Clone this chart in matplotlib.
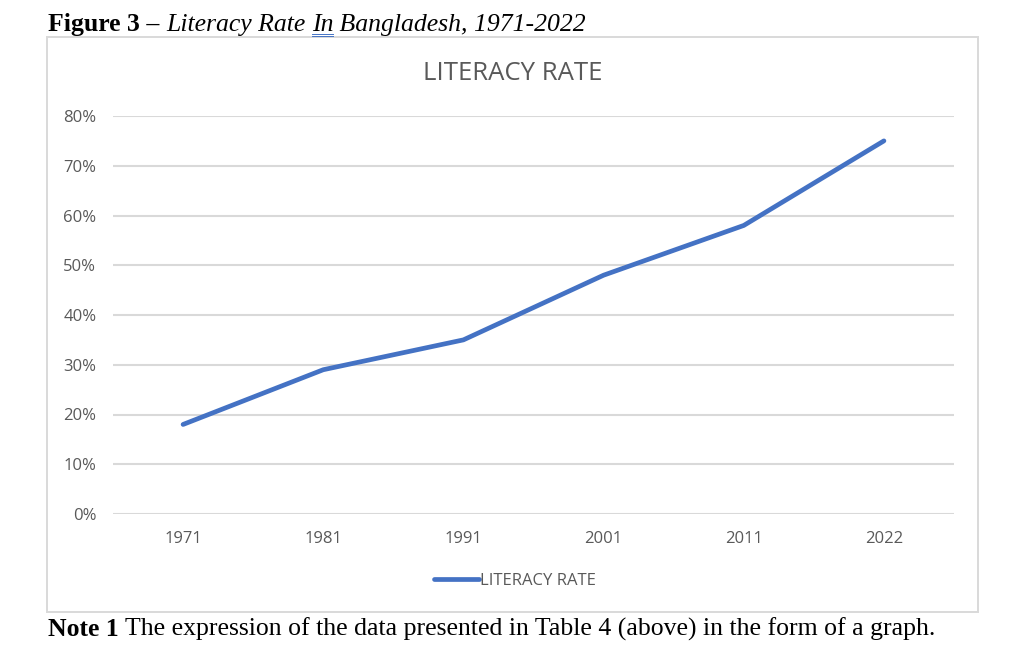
import matplotlib.pyplot as plt
from matplotlib.patches import Rectangle
from matplotlib.lines import Line2D

years = ['1971', '1981', '1991', '2001', '2011', '2022']
literacy = [0.18, 0.29, 0.35, 0.48, 0.58, 0.75]
y_ticks = [0.0, 0.1, 0.2, 0.3, 0.4, 0.5, 0.6, 0.7, 0.8]
y_labels = ['0%', '10%', '20%', '30%', '40%', '50%', '60%', '70%', '80%']

W, H = 1036, 653
GREY = '#595959'
GRID = '#d9d9d9'
BLUE = '#4472C4'

fig = plt.figure(figsize=(W / 100, H / 100), dpi=100)
fig.patch.set_facecolor('white')

def fx(px):
    return px / W

def fy(py):
    return 1 - py / H

# chart frame
fig.patches.append(Rectangle((fx(47), fy(612)), fx(978) - fx(47), fy(37) - fy(612),
                             transform=fig.transFigure, fill=False,
                             edgecolor=GRID, linewidth=1.4))

ax = fig.add_axes([fx(113), fy(514), fx(954) - fx(113), fy(116) - fy(514)])
x = list(range(len(years)))
ax.plot(x, literacy, color=BLUE, linewidth=3.4, solid_capstyle='round',
        solid_joinstyle='round', label='LITERACY RATE', zorder=3)
ax.set_xlim(-0.5, len(years) - 0.5)
ax.set_ylim(0, 0.8)
ax.set_yticks(y_ticks)
ax.set_yticklabels(y_labels)
ax.set_xticks(x)
ax.set_xticklabels(years)
ax.grid(axis='y', color=GRID, linewidth=1.5)
ax.set_axisbelow(True)
for s in ax.spines.values():
    s.set_visible(False)
ax.tick_params(length=0, colors=GREY, labelsize=12)
ax.tick_params(axis='y', pad=12)
ax.tick_params(axis='x', pad=12.5)
for lab in ax.get_xticklabels() + ax.get_yticklabels():
    lab.set_fontfamily('Open Sans')

fig.text(fx(513), fy(73), 'LITERACY RATE', ha='center', va='center',
         fontsize=18.5, color=GREY, family='Open Sans')

# legend
leg = fig.legend(handles=[Line2D([0], [0], color=BLUE, linewidth=3.4, solid_capstyle='round')],
                 labels=['LITERACY RATE'], loc='center', bbox_to_anchor=(fx(515), fy(581)),
                 frameon=False, handlelength=2.7, handletextpad=0.1,
                 prop={'family': 'Open Sans', 'size': 12})
for t in leg.get_texts():
    t.set_color(GREY)

# caption above the chart
FS = 18.5
fig.canvas.draw()
r = fig.canvas.get_renderer()
t1 = fig.text(fx(48), fy(31), 'Figure 3 \u2013 ', ha='left', va='baseline',
              fontsize=FS, fontweight='bold', family='Liberation Serif')
bb = t1.get_window_extent(r)
t2 = fig.text(bb.x1 / W, fy(31), 'Literacy Rate ', ha='left', va='baseline',
              fontsize=FS, style='italic', family='Liberation Serif')
bb = t2.get_window_extent(r)
t3 = fig.text(bb.x1 / W, fy(31), 'In', ha='left', va='baseline',
              fontsize=FS, style='italic', family='Liberation Serif')
bb3 = t3.get_window_extent(r)
t4 = fig.text(bb3.x1 / W, fy(31), ' Bangladesh, 1971-2022', ha='left', va='baseline',
              fontsize=FS, style='italic', family='Liberation Serif')
# double underline under "In"
for yy in (33.5, 36):
    fig.add_artist(Line2D([bb3.x0 / W, bb3.x1 / W], [fy(yy), fy(yy)],
                          transform=fig.transFigure, color='#4472C4', linewidth=0.7))

# note below the chart
tn = fig.text(fx(48), fy(636), 'Note 1', ha='left', va='baseline', fontsize=FS,
              fontweight='bold', family='Liberation Serif')
bb = tn.get_window_extent(r)
fig.text(bb.x1 / W, fy(636), ' The expression of the data presented in Table 4 (above) in the form of a graph.',
         ha='left', va='baseline', fontsize=FS, family='Liberation Serif')

fig.savefig('out.png', dpi=100)
